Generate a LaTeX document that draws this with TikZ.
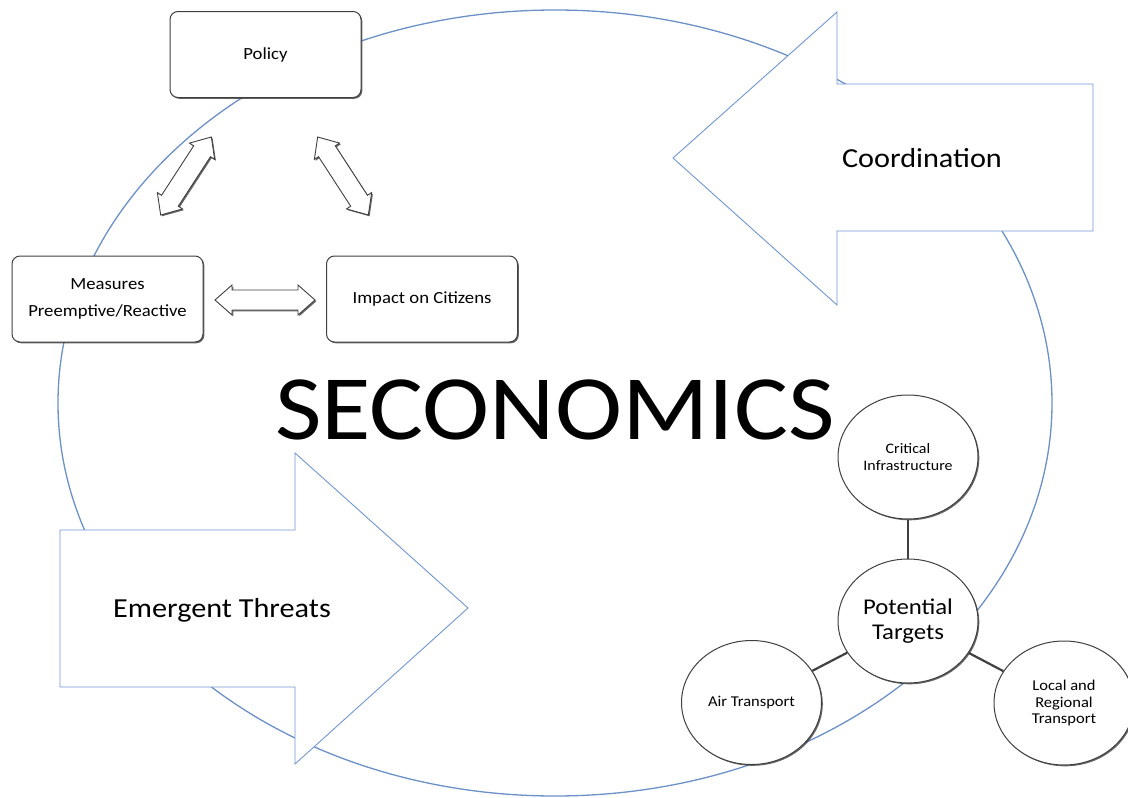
\documentclass[tikz,border=0pt]{standalone}
\usepackage{fontspec}
\setmainfont{Carlito}[FakeStretch=1.1]
\usetikzlibrary{shapes.geometric,shadows}

\definecolor{ringblue}{RGB}{108,145,200}
\definecolor{arrowblue}{RGB}{112,150,210}
\definecolor{boxgray}{RGB}{64,64,64}

\tikzset{
  softshadow/.style={drop shadow={shadow xshift=1.3pt, shadow yshift=-1.3pt, fill=black!75, opacity=.8}},
  box/.style={draw=boxgray, line width=1pt, rounded corners=8pt, fill=white, softshadow,
    minimum width=191pt, minimum height=86pt, align=center, font=\fontsize{17}{27}\selectfont},
  bubble/.style={ellipse, draw=boxgray, line width=1pt, fill=white, softshadow,
    minimum width=140pt, minimum height=124pt, inner sep=0pt, align=center},
  link/.style={draw=boxgray, line width=2.2pt},
  blockarrow/.style={draw=arrowblue, line width=.9pt, fill=white, line join=miter},
  bigword/.style={font=\fontsize{27.5}{30}\selectfont},
  ring/.style={draw=ringblue, line width=1.3pt},
  pics/twoway/.style={code={
    \draw[draw=boxgray, line width=.9pt, fill=white, softshadow]
      (-#1,0) -- (-#1+17,15) -- (-#1+17,10) -- (#1-17,10) -- (#1-17,15) -- (#1,0)
      -- (#1-17,-15) -- (#1-17,-10) -- (-#1+17,-10) -- (-#1+17,-15) -- cycle;
  }}
}

\begin{document}
\begin{tikzpicture}[x=1pt,y=-1pt]
\useasboundingbox (0,0) rectangle (1128,798);

% the big ring behind everything
\draw[ring] (555,403) ellipse [x radius=497pt, y radius=393pt];

% three boxes
\node[box] (policy) at (265.5,54.5) {Policy};
\node[box] (measures) at (107.5,299) {Measures\\Preemptive/Reactive};
\node[box] (impact) at (422,299) {Impact on Citizens};

% two-way arrows between the boxes
\pic (pm) at (186,176) [rotate=57] {twoway=46.5};
\pic (pi) at (343,176) [rotate=-57] {twoway=46.5};
\pic (mi) at (265,300) {twoway=50};

% coordination arrow (pointing left)
\draw[blockarrow] (673,158) -- (837,12) -- (837,84) -- (1093,84) -- (1093,231)
  -- (837,231) -- (837,305) -- cycle;
\node[bigword] (coord) at (922,158) {Coordination};

% emergent threats arrow (pointing right)
\draw[blockarrow] (60,530) -- (295,530) -- (295,453) -- (468,608) -- (295,764)
  -- (295,687) -- (60,687) -- cycle;
\node[bigword] (threats) at (222,610) {Emergent Threats};

% title
\node[font=\fontsize{92}{92}\selectfont, anchor=base, inner sep=0pt] (title) at (555,439) {SECONOMICS};

% targets
\node[bubble, font=\fontsize{14.5}{17}\selectfont] (infra) at (908,457) {Critical\\Infrastructure};
\node[bubble, font=\fontsize{22.5}{25}\selectfont] (targets) at (908,621) {Potential\\Targets};
\node[bubble, font=\fontsize{15}{17}\selectfont] (air) at (751.5,702.5) {Air Transport};
\node[bubble, font=\fontsize{15}{16.5}\selectfont] (local) at (1064,703) {Local and\\Regional\\Transport};

\draw[link] (infra) -- (targets);
\draw[link] (targets) -- (air);
\draw[link] (targets) -- (local);

\end{tikzpicture}
\end{document}
